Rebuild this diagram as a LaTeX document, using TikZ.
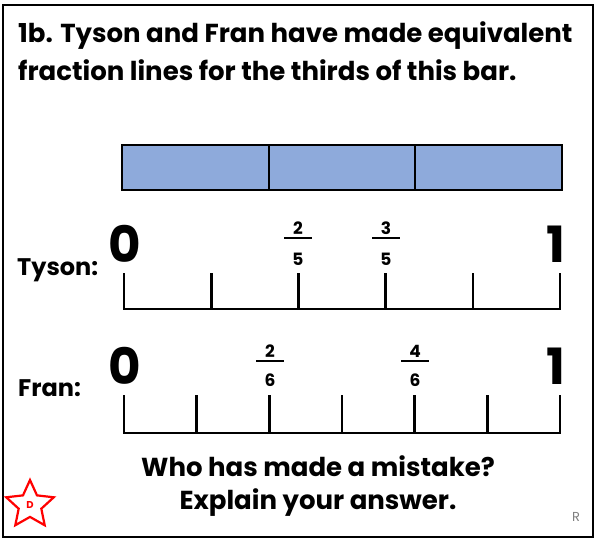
\documentclass[tikz,border=0pt]{standalone}
\usepackage{fontspec}
\setmainfont{Poppins}
\usetikzlibrary{positioning,shapes.geometric}
\definecolor{barblue}{RGB}{142,170,219}

\begin{document}
\begin{tikzpicture}[x=1pt,y=-1pt,
  tickline/.style={line width=2.6pt,line join=miter},
  lab/.style={font=\fontsize{26}{28}\selectfont\bfseries,anchor=base west,inner sep=0pt},
  person/.style={font=\fontsize{24}{26}\selectfont\bfseries,anchor=base west,inner sep=0pt},
  big/.style={font=\fontsize{50}{50}\selectfont\bfseries,inner sep=0pt},
  frac/.style={font=\fontsize{17}{17}\selectfont\bfseries,inner sep=0pt},
  ask/.style={font=\fontsize{26}{28}\selectfont\bfseries,anchor=base,inner sep=0pt}]
\useasboundingbox (0,0) rectangle (596,541);
\draw[line width=1.6pt] (3,5) rectangle (593,537);
% heading
\node[lab] (title1) at (18,42) {1b. Tyson and Fran have made equivalent};
\node[lab] (title2) at (18,80) {fraction lines for the thirds of this bar.};
% the bar in thirds
\draw[fill=barblue,line width=1.4pt] (122,145) rectangle (562,190);
\foreach \x in {269,415} \draw[line width=1.4pt] (\x,145) -- (\x,190);
% Tyson
\begin{scope}
  \node[person] (tyson) at (17,275) {Tyson:};
  \node[big] (tzero) at (125,244) {0};
  \node[big] (tone) at (556,244) {1};
  \draw[tickline] (124,273) -- (124,309) -- (560,309) -- (560,273);
  \foreach \i in {1,...,4} \draw[tickline] ({124+\i*87.2},273) -- ({124+\i*87.2},309);
  \foreach \x/\n/\d in {298/2/5,386/3/5} {
    \node[frac] at (\x,228) {\n};
    \draw[line width=1.6pt] (\x-14,238) -- (\x+14,238);
    \node[frac] at (\x,259) {\d};
  }
\end{scope}
% Fran
\begin{scope}
  \node[person] (fran) at (18,396) {Fran:};
  \node[big] (fzero) at (125,366) {0};
  \node[big] (fone) at (556,366) {1};
  \draw[tickline] (124,395) -- (124,433) -- (560,433) -- (560,395);
  \foreach \i in {1,...,5} \draw[tickline] ({124+\i*72.67},395) -- ({124+\i*72.67},433);
  \foreach \x/\n/\d in {270/2/6,415/4/6} {
    \node[frac] at (\x,351) {\n};
    \draw[line width=1.6pt] (\x-14,361) -- (\x+14,361);
    \node[frac] at (\x,380) {\d};
  }
\end{scope}
% question
\node[ask] (ask1) at (318,476) {Who has made a mistake?};
\node[ask] (ask2) at (318,509) {Explain your answer.};
\node[star,star points=5,star point ratio=2.1,draw=red,line width=2.2pt,minimum size=50pt,
  inner sep=0pt,text=red,font=\fontsize{10}{10}\selectfont\bfseries] (level) at (30,505) {D};
\node[text=gray,font=\fontsize{13}{13}\selectfont] (rmark) at (576,517) {R};
\end{tikzpicture}
\end{document}
